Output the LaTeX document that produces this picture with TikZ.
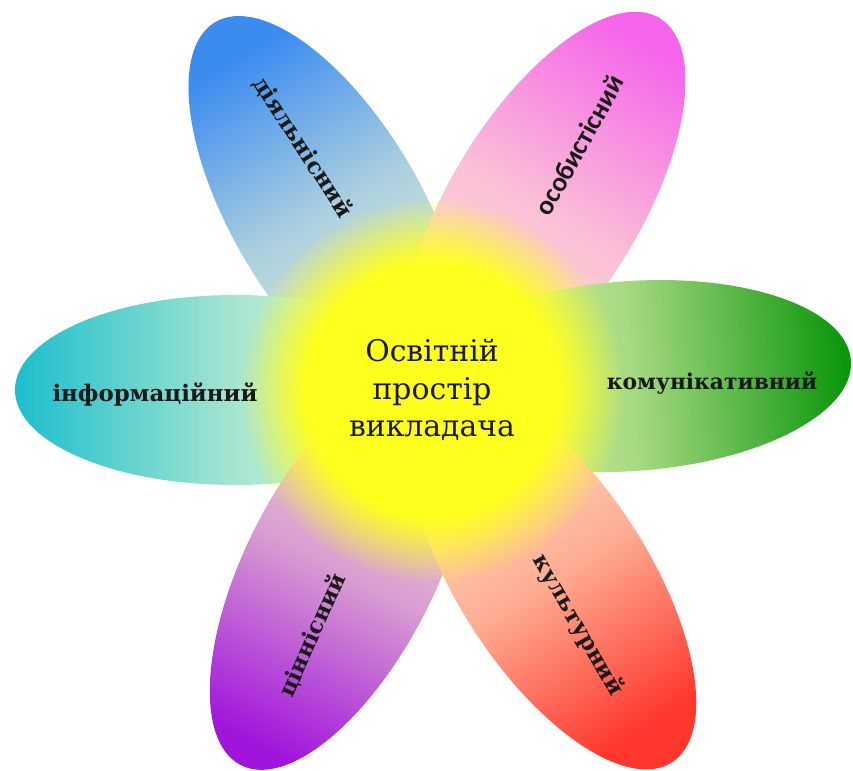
\documentclass[tikz,border=0pt]{standalone}
\usepackage{fontspec}
\setmainfont{DejaVu Serif}
\newfontfamily\calfont{Carlito}
\usetikzlibrary{fadings}

\definecolor{infotip}{RGB}{28,190,205}
\definecolor{infopale}{RGB}{232,248,210}
\definecolor{komuntip}{RGB}{12,150,12}
\definecolor{komunpale}{RGB}{240,250,185}
\definecolor{diyaltip}{RGB}{60,140,240}
\definecolor{diyalpale}{RGB}{225,240,215}
\definecolor{osobtip}{RGB}{245,100,235}
\definecolor{osobpale}{RGB}{253,232,205}
\definecolor{kulttip}{RGB}{255,55,45}
\definecolor{kultpale}{RGB}{253,228,195}
\definecolor{tsintip}{RGB}{160,20,220}
\definecolor{tsinpale}{RGB}{244,224,205}
\definecolor{coreyellow}{RGB}{255,255,30}
\definecolor{labelink}{RGB}{25,25,25}

\pgfdeclareradialshading{coreglowshade}{\pgfpointorigin}{color(0bp)=(pgftransparent!0); color(16.5bp)=(pgftransparent!0); color(25bp)=(pgftransparent!100); color(50bp)=(pgftransparent!100)}
\pgfdeclarefading{coreglow}{\pgfuseshading{coreglowshade}}

\tikzset{
    petal/.style n args={3}{
    left color=#1,
    right color=#2,
    middle color=#2!32!#1,
    shading angle=#3
    },
    side/.style={
    text=labelink,
    font=\bfseries\fontsize{13}{15}\selectfont
    }
}

\begin{document}
\begin{tikzpicture}[x=0.02cm,y=-0.02cm]
\useasboundingbox (0,0) rectangle (853,771);
\coordinate (c) at (432,390);

% petals
\begin{scope}[shift={(c)},rotate=120.5]
\shade[petal={diyalpale}{diyaltip}{210.5}] (207,0) ellipse [x radius=220,y radius=95];
\end{scope}
\begin{scope}[shift={(c)},rotate=58.5]
\shade[petal={osobpale}{osobtip}{148.5}] (216,0) ellipse [x radius=220,y radius=95];
\end{scope}
\begin{scope}[shift={(c)},rotate=180]
\shade[petal={infopale}{infotip}{270}] (197,0) ellipse [x radius=220,y radius=95];
\end{scope}
\begin{scope}[shift={(c)},rotate=4]
\shade[petal={komunpale}{komuntip}{94}] (200,0) ellipse [x radius=220,y radius=95];
\end{scope}
\begin{scope}[shift={(c)},rotate=-117]
\shade[petal={tsinpale}{tsintip}{-27}] (201,0) ellipse [x radius=220,y radius=95];
\end{scope}
\begin{scope}[shift={(c)},rotate=-57.2]
\shade[petal={kultpale}{kulttip}{32.8}] (223,0) ellipse [x radius=220,y radius=95];
\end{scope}

% yellow middle
\fill[coreyellow, path fading=coreglow] (c) circle (192);

\node[align=center,text=labelink,font=\fontsize{17}{21.5}\selectfont] (core) at (c) {Освітній\\простір\\викладача};

\node[side] (info) at (155,395) {інформаційний};
\node[side,font=\bfseries\fontsize{12.4}{15}\selectfont] (komun) at (712,383) {комунікативний};
\node[side,rotate=-57] (diyal) at (303,147) {діяльнісний};
\node[side,font=\calfont\bfseries\fontsize{15.5}{17}\selectfont,rotate=61] (osob) at (579,145) {особистісний};
\node[side,rotate=-60] (kult) at (578,625) {культурний};
\node[side,rotate=66] (tsin) at (312,635) {ціннісний};

\end{tikzpicture}
\end{document}
